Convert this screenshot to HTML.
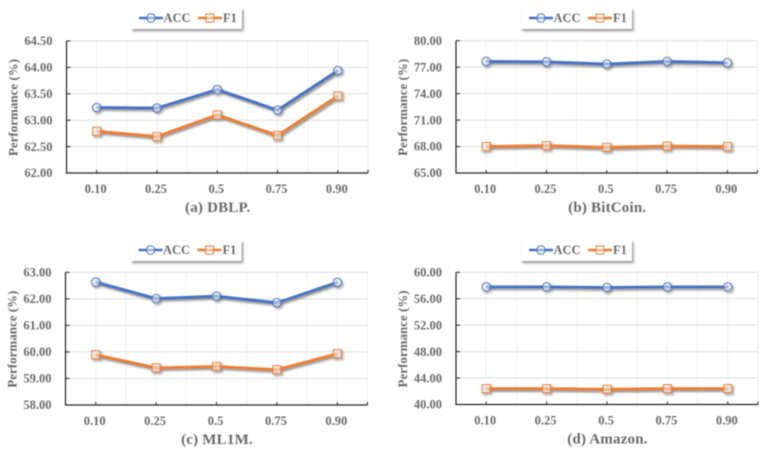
<!DOCTYPE html>
<html lang="en">
<head>
<meta charset="utf-8">
<title>Performance charts</title>
<style>
  html, body { margin: 0; padding: 0; background: #fff; }
  #figure { display: block; width: 765px; height: 450px; filter: blur(0.5px); }
  text { font-family: "Liberation Serif", serif; font-weight: bold; fill: #6a6a6a; }
  .tick { font-size: 12.5px; }
  .legend-text { font-size: 12.5px; }
  .axis-title { font-size: 13px; }
  .caption { font-size: 15px; letter-spacing: 0.2px; }
</style>
</head>
<body>
<svg id="figure" xmlns="http://www.w3.org/2000/svg" width="765" height="450" viewBox="0 0 765 450">
  <defs>
    <filter id="soft-shadow" x="-10%" y="-30%" width="120%" height="170%">
      <feDropShadow dx="1.5" dy="1.8" stdDeviation="1" flood-color="#444" flood-opacity="0.65"/>
    </filter>
    <filter id="legend-shadow" x="-10%" y="-30%" width="120%" height="170%">
      <feDropShadow dx="1.5" dy="2" stdDeviation="1.2" flood-color="#444" flood-opacity="0.6"/>
    </filter>
  </defs>
</svg>
<script>
const categories = ["0.10", "0.25", "0.5", "0.75", "0.90"];

const dblpAcc = [63.24, 63.23, 63.58, 63.19, 63.94];
const dblpF1 = [62.79, 62.69, 63.10, 62.71, 63.46];
const dblpTicks = ["62.00", "62.50", "63.00", "63.50", "64.00", "64.50"];

const bitcoinAcc = [77.65, 77.60, 77.35, 77.65, 77.50];
const bitcoinF1 = [68.00, 68.10, 67.90, 68.05, 68.00];
const bitcoinTicks = ["65.00", "68.00", "71.00", "74.00", "77.00", "80.00"];

const ml1mAcc = [62.63, 62.01, 62.10, 61.85, 62.62];
const ml1mF1 = [59.89, 59.40, 59.45, 59.33, 59.93];
const ml1mTicks = ["58.00", "59.00", "60.00", "61.00", "62.00", "63.00"];

const amazonAcc = [57.80, 57.80, 57.70, 57.80, 57.80];
const amazonF1 = [42.40, 42.40, 42.30, 42.40, 42.40];
const amazonTicks = ["40.00", "44.00", "48.00", "52.00", "56.00", "60.00"];

const panels = [
  { key: "dblp", caption: "(a) DBLP.", acc: dblpAcc, f1: dblpF1, ticks: dblpTicks,
    left: 66.5, right: 368, top: 41, bottom: 173, legendX: 131, legendY: 8 },
  { key: "bitcoin", caption: "(b) BitCoin.", acc: bitcoinAcc, f1: bitcoinF1, ticks: bitcoinTicks,
    left: 456, right: 757.5, top: 40.7, bottom: 173, legendX: 521, legendY: 8 },
  { key: "ml1m", caption: "(c) ML1M.", acc: ml1mAcc, f1: ml1mF1, ticks: ml1mTicks,
    left: 65.5, right: 367.5, top: 272.3, bottom: 405, legendX: 130.5, legendY: 240 },
  { key: "amazon", caption: "(d) Amazon.", acc: amazonAcc, f1: amazonF1, ticks: amazonTicks,
    left: 456, right: 758, top: 272.3, bottom: 404.5, legendX: 521, legendY: 240 }
];

const svgNS = "http://www.w3.org/2000/svg";
const figure = document.getElementById("figure");
const BLUE = "#4472c4";
const ORANGE = "#ed7d31";

function make(tag, parent, attrs, text) {
  const node = document.createElementNS(svgNS, tag);
  for (const k in attrs) node.setAttribute(k, attrs[k]);
  if (text !== undefined) node.textContent = text;
  parent.appendChild(node);
  return node;
}

function drawMarker(parent, kind, x, y, color) {
  let m;
  if (kind === "circle") {
    m = make("circle", parent, { cx: x, cy: y, r: 4.2, fill: "rgba(255,255,255,0.45)", stroke: color, "stroke-width": 1 });
  } else {
    m = make("rect", parent, { x: x - 4, y: y - 4, width: 8, height: 8, fill: "rgba(255,255,255,0.45)", stroke: color, "stroke-width": 1 });
  }
  return m;
}

function drawSeries(parent, values, xScale, yScale, color, kind, name) {
  const g = make("g", parent, { filter: "url(#soft-shadow)" });
  
  
  const pts = values.map((v, i) => xScale(i) + "," + yScale(v)).join(" ");
  const line = make("polyline", g, { points: pts, fill: "none", stroke: color, "stroke-width": 2.8, "stroke-linejoin": "round" });
  
  
  values.forEach((v, i) => {
    const m = drawMarker(g, kind, xScale(i), yScale(v), color);
    
    
  });
}

function drawLegend(parent, lx, ly) {
  const g = make("g", parent, {});
  
  
  const box = make("rect", g, { x: lx, y: ly, width: 111, height: 21, fill: "#fff", filter: "url(#legend-shadow)" });
  
  

  const accKey = make("line", g, { x1: lx + 8, x2: lx + 32, y1: ly + 10, y2: ly + 10, stroke: BLUE, "stroke-width": 2.6 });
  
  
  const accMark = drawMarker(g, "circle", lx + 20, ly + 10, BLUE);
  
  
  const accText = make("text", g, { x: lx + 32.5, y: ly + 14, class: "legend-text" }, "ACC");
  
  

  const f1Key = make("line", g, { x1: lx + 67, x2: lx + 91, y1: ly + 10, y2: ly + 10, stroke: ORANGE, "stroke-width": 2.6 });
  
  
  const f1Mark = drawMarker(g, "rect", lx + 79, ly + 10, ORANGE);
  
  
  const f1Text = make("text", g, { x: lx + 92, y: ly + 14, class: "legend-text" }, "F1");
  
  
}

panels.forEach((p) => {
  const g = make("g", figure, {});
  
  

  const step = (p.right - p.left) / categories.length;
  const xScale = (i) => p.left + step * (i + 0.5);
  const yMin = Number(p.ticks[0]);
  const yMax = Number(p.ticks[p.ticks.length - 1]);
  const yScale = (v) => p.bottom - (v - yMin) / (yMax - yMin) * (p.bottom - p.top);

  // vertical gridlines at categories and category boundaries
  for (let i = 0; i <= categories.length * 2; i++) {
    const x = p.left + step * i / 2;
    if (i === 0) continue;
    const v = make("line", g, { x1: x, x2: x, y1: p.top, y2: p.bottom, stroke: "#efefef", "stroke-width": 0.9 });
    
    
  }

  // horizontal gridlines, y ticks, y labels
  p.ticks.forEach((t) => {
    const y = yScale(Number(t));
    if (Number(t) !== yMin) {
      const h = make("line", g, { x1: p.left, x2: p.right, y1: y, y2: y, stroke: "#dcdcdc", "stroke-width": 1 });
      
      
    }
    const tick = make("line", g, { x1: p.left, x2: p.left + 4, y1: y, y2: y, stroke: "#222", "stroke-width": 1 });
    
    
    const label = make("text", g, { x: p.left - 14, y: y + 4.2, "text-anchor": "end", class: "tick" }, t);
    
    
  });

  // x ticks and labels
  categories.forEach((c, i) => {
    const x = xScale(i);
    const tick = make("line", g, { x1: x, x2: x, y1: p.bottom - 3, y2: p.bottom, stroke: "#222", "stroke-width": 1 });
    
    
    const label = make("text", g, { x: x - 1, y: p.bottom + 20, "text-anchor": "middle", class: "tick" }, c);
    
    
  });
  const endTick = make("line", g, { x1: p.right, x2: p.right, y1: p.bottom - 3, y2: p.bottom, stroke: "#222", "stroke-width": 1 });
  
  

  // axes
  const yAxis = make("line", g, { x1: p.left, x2: p.left, y1: p.top, y2: p.bottom + 0.6, stroke: "#222", "stroke-width": 1.2 });
  
  
  const xAxis = make("line", g, { x1: p.left, x2: p.right, y1: p.bottom, y2: p.bottom, stroke: "#222", "stroke-width": 1.2 });
  
  

  // series
  drawSeries(g, p.acc, xScale, yScale, BLUE, "circle", "acc");
  drawSeries(g, p.f1, xScale, yScale, ORANGE, "rect", "f1");

  // y axis title
  const cy = (p.top + p.bottom) / 2 + 0.5;
  const cx = p.left - 49;
  const yTitle = make("text", g, { x: cx, y: cy, "text-anchor": "middle", class: "axis-title", transform: "rotate(-90 " + cx + " " + cy + ")" }, "Performance (%)");
  
  

  // caption
  const capt = make("text", g, { x: (p.left + p.right) / 2 + 0.5, y: p.bottom + 39, "text-anchor": "middle", class: "caption" }, p.caption);
  
  

  drawLegend(g, p.legendX, p.legendY);
});
</script>
</body>
</html>
